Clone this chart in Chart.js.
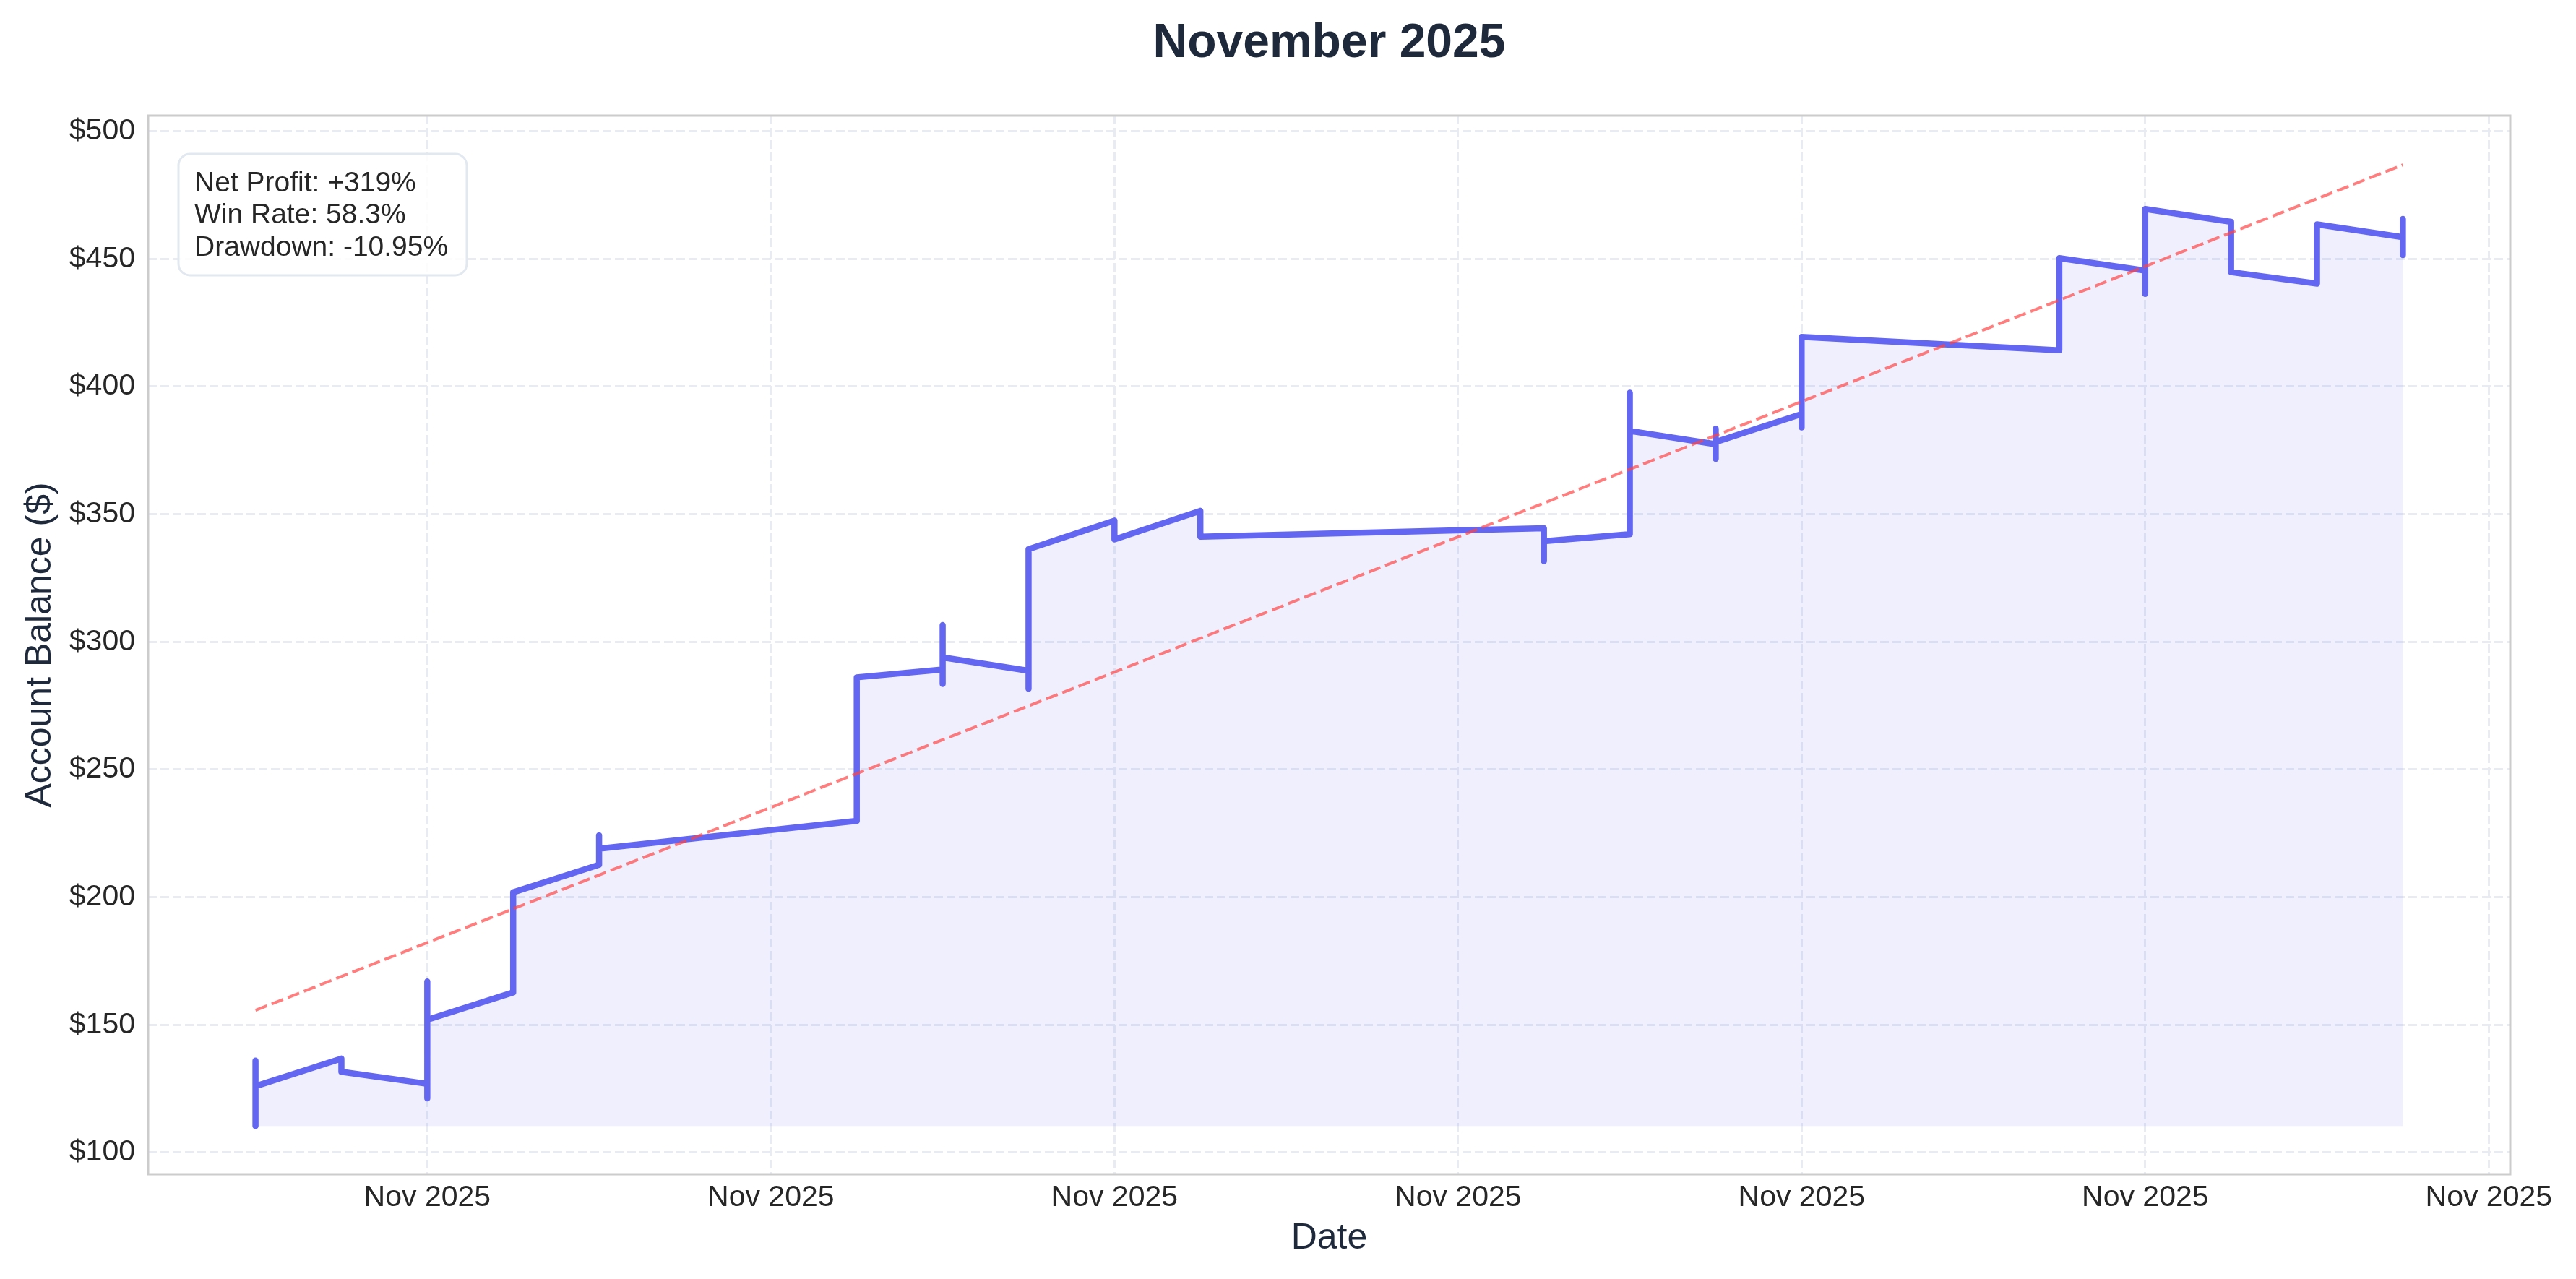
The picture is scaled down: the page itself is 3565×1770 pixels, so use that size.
<!DOCTYPE html>
<html lang="en">
<head>
    <meta charset="UTF-8">
    <title>November 2025</title>
    <script src="https://cdn.jsdelivr.net/npm/chart.js"></script>
    <style>
        body {
            margin: 0;
            background: #ffffff;
        }
        canvas {
            display: block;
        }
    </style>
</head>
<body>
    <canvas id="balanceChart" width="3565" height="1770"></canvas>

    <script>
        // day of month for every recorded balance (several trades can share a day)
        const tradeDays = [
            3, 3, 3,
            4, 4,
            5, 5, 5, 5,
            6, 6,
            7, 7, 7,
            10, 10,
            11, 11, 11, 11,
            12, 12, 12,
            13, 13,
            14, 14,
            18, 18, 18,
            19, 19, 19,
            20, 20, 20, 20,
            21, 21, 21,
            24, 24,
            25, 25, 25,
            26, 26,
            27, 27,
            28, 28, 28, 28
        ];
        const balances = [
            110.4, 136.0, 126.0,
            136.8, 131.6,
            126.9, 121.2, 167.0, 152.0,
            162.7, 201.9,
            212.7, 224.2, 219.0,
            229.9, 286.1,
            289.2, 306.6, 283.5, 293.9,
            288.7, 281.6, 336.3,
            347.5, 340.1,
            351.3, 341.2,
            344.5, 331.6, 339.4,
            342.2, 397.6, 382.6,
            377.4, 383.5, 371.7, 378.3,
            389.2, 384.0, 419.4,
            414.2, 450.3,
            445.4, 436.3, 469.5,
            464.5, 444.8,
            440.3, 463.5,
            458.5, 451.5, 465.6, 458.0
        ];
        const fillBase = 110.4;

        const trendDays = [3, 28];
        const trendValues = [155.7, 486.8];

        const xTickDays = [5, 9, 13, 17, 21, 25, 29];
        const xTickLabel = "Nov 2025";
        const yTickValues = [100, 150, 200, 250, 300, 350, 400, 450, 500];

        const chartTitle = "November 2025";
        const statsLines = ["Net Profit: +319%", "Win Rate: 58.3%", "Drawdown: -10.95%"];

        const FONT = "'Liberation Sans', Arial, Helvetica, sans-serif";
        const gridColor = "#e8ecf2";

        const balancePoints = tradeDays.map((d, i) => ({ x: d, y: balances[i] }));
        const trendPoints = trendDays.map((d, i) => ({ x: d, y: trendValues[i] }));

        // frame, title and stats box
        const extras = {
            id: "extras",
            afterDraw(chart) {
                const ctx = chart.ctx;
                const area = chart.chartArea;
                ctx.save();

                ctx.strokeStyle = "#cccccc";
                ctx.lineWidth = 3;
                ctx.strokeRect(area.left, area.top, area.right - area.left, area.bottom - area.top);

                ctx.fillStyle = "#1e293b";
                ctx.font = "bold 66px " + FONT;
                ctx.textAlign = "center";
                ctx.textBaseline = "alphabetic";
                ctx.fillText(chartTitle, (area.left + area.right) / 2, 79);

                ctx.beginPath();
                ctx.roundRect(247, 213, 399, 168, 16);
                ctx.fillStyle = "rgba(255,255,255,0.85)";
                ctx.fill();
                ctx.strokeStyle = "#e2e8f0";
                ctx.lineWidth = 3;
                ctx.stroke();

                ctx.fillStyle = "#262626";
                ctx.font = "39px " + FONT;
                ctx.textAlign = "left";
                statsLines.forEach((line, i) => {
                    ctx.fillText(line, 269, 265 + i * 44.3);
                });
                ctx.restore();
            }
        };

        new Chart(document.getElementById("balanceChart").getContext("2d"), {
            type: "line",
            data: {
                datasets: [
                    {
                        label: "Trend",
                        data: trendPoints,
                        borderColor: "rgba(255,70,70,0.7)",
                        borderWidth: 4,
                        borderDash: [17, 7],
                        pointRadius: 0,
                        fill: false
                    },
                    {
                        label: "Balance",
                        data: balancePoints,
                        borderColor: "#6366f1",
                        backgroundColor: "rgba(99,102,241,0.1)",
                        borderWidth: 8.5,
                        borderCapStyle: "round",
                        borderJoinStyle: "round",
                        pointRadius: 0,
                        tension: 0,
                        fill: { value: fillBase }
                    }
                ]
            },
            options: {
                responsive: false,
                animation: false,
                layout: {
                    padding: { top: 160, right: 91, bottom: 0, left: 0 }
                },
                plugins: {
                    legend: { display: false },
                    tooltip: { enabled: false },
                    title: { display: false }
                },
                scales: {
                    x: {
                        type: "linear",
                        min: 1.75,
                        max: 29.25,
                        afterBuildTicks: (scale) => {
                            scale.ticks = xTickDays.map(v => ({ value: v }));
                        },
                        afterFit: (scale) => { scale.height = 145; },
                        ticks: {
                            autoSkip: false,
                            maxRotation: 0,
                            padding: 8,
                            color: "#262626",
                            font: { family: FONT, size: 41 },
                            callback: () => xTickLabel
                        },
                        grid: {
                            color: gridColor,
                            lineWidth: 3,
                            drawTicks: false
                        },
                        border: { display: false, dash: [12, 5] },
                        title: {
                            display: true,
                            text: "Date",
                            color: "#1e293b",
                            font: { family: FONT, size: 50, lineHeight: 1.2 },
                            padding: { top: 0, bottom: 26 }
                        }
                    },
                    y: {
                        min: 91.5,
                        max: 506.1,
                        afterBuildTicks: (scale) => {
                            scale.ticks = yTickValues.map(v => ({ value: v }));
                        },
                        afterFit: (scale) => { scale.width = 205; },
                        ticks: {
                            padding: 18,
                            color: "#262626",
                            font: { family: FONT, size: 41 },
                            callback: (v) => "$" + v
                        },
                        grid: {
                            color: gridColor,
                            lineWidth: 3,
                            drawTicks: false
                        },
                        border: { display: false, dash: [12, 5] },
                        title: {
                            display: true,
                            text: "Account Balance ($)",
                            color: "#1e293b",
                            font: { family: FONT, size: 50, lineHeight: 1.2 },
                            padding: { top: 26, bottom: 0 }
                        }
                    }
                }
            },
            plugins: [extras]
        });
    </script>
</body>
</html>
